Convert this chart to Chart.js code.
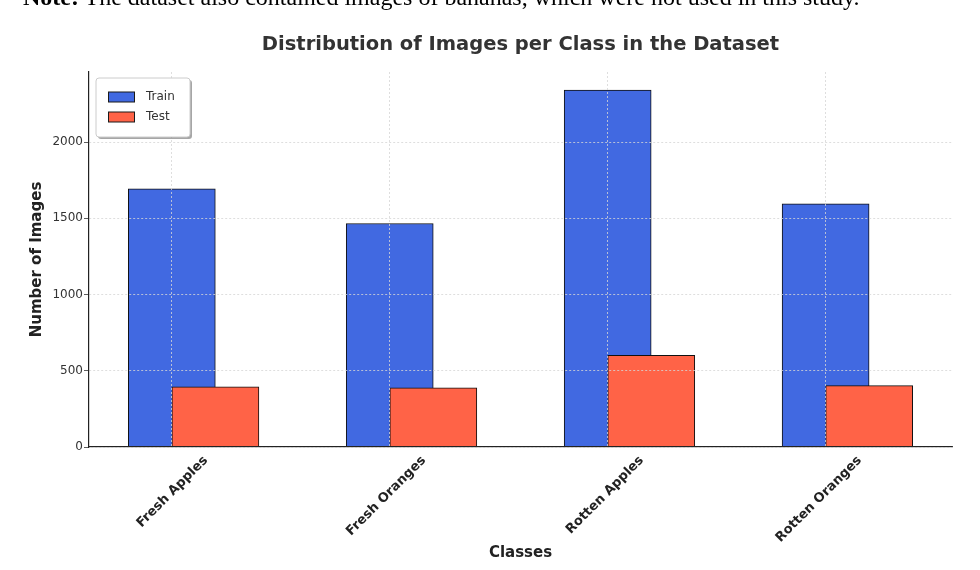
<!DOCTYPE html>
<html>
<head>
<meta charset="utf-8">
<script src="https://cdn.jsdelivr.net/npm/chart.js@4/dist/chart.umd.min.js"></script>
<style>
    html, body { margin: 0; padding: 0; background: #ffffff; overflow: hidden; }
    #page { position: relative; width: 980px; height: 570px; overflow: hidden; }
    #note {
        position: absolute; left: 23px; top: -15px; white-space: nowrap;
        font-family: "Liberation Serif", serif; font-size: 24px; line-height: 1; color: #000;
    }
    #distChart { position: absolute; left: 0; top: 0; }
</style>
</head>
<body>
<div id="page">
    <canvas id="distChart" width="980" height="570"></canvas>
    <div id="note"><b>Note:</b> The dataset also contained images of bananas, which were not used in this study.</div>
</div>
<script>
const categories = ['Fresh Apples', 'Fresh Oranges', 'Rotten Apples', 'Rotten Oranges'];
const trainCounts = [1693, 1466, 2342, 1595];
const testCounts = [395, 388, 601, 403];
const yTicks = [0, 500, 1000, 1500, 2000];
const yMax = 2460;

// test bars sit half a bar to the right of the train bars
const testShift = 0.2;

Chart.defaults.font.family = 'DejaVu Sans';
Chart.defaults.color = '#333';

// title centred over the axes, like matplotlib does it
const axesTitle = {
    id: 'axesTitle',
    afterDraw(chart, args, opts) {
        const { ctx, chartArea } = chart;
        ctx.save();
        ctx.fillStyle = '#333';
        ctx.font = 'bold 19.5px "DejaVu Sans"';
        ctx.textAlign = 'center';
        ctx.textBaseline = 'middle';
        ctx.fillText(opts.text, (chartArea.left + chartArea.right) / 2, 44.5);
        ctx.restore();
    }
};

const legendBox = {
    id: 'legendBox',
    afterDraw(chart) {
        const ctx = chart.ctx;
        const x = 96, y = 78, w = 94, h = 59;

        ctx.save();
        ctx.fillStyle = 'rgba(0, 0, 0, 0.35)';
        ctx.beginPath();
        ctx.roundRect(x + 2, y + 2, w, h, 3);
        ctx.fill();
        ctx.fillStyle = '#ffffff';
        ctx.strokeStyle = '#cccccc';
        ctx.lineWidth = 1;
        ctx.beginPath();
        ctx.roundRect(x, y, w, h, 3);
        ctx.fill();
        ctx.stroke();

        chart.data.datasets.forEach((ds, i) => {
            const rowY = 97 + i * 20;
            ctx.fillStyle = ds.backgroundColor;
            ctx.fillRect(108.5, rowY - 5, 26, 10);
            ctx.strokeStyle = '#1a1a1a';
            ctx.strokeRect(108.5, rowY - 5, 26, 10);
            ctx.fillStyle = '#333';
            ctx.font = '12px "DejaVu Sans"';
            ctx.textBaseline = 'middle';
            ctx.fillText(ds.label, 146, rowY);
        });
        ctx.restore();
    }
};

const ctx = document.getElementById('distChart').getContext('2d');

const distChart = new Chart(ctx, {
    type: 'bar',
    data: {
        datasets: [
            {
                label: 'Train',
                data: trainCounts.map((v, i) => ({ x: i, y: v })),
                backgroundColor: '#4169E1',
                borderColor: '#111',
                borderWidth: 1,
                borderSkipped: false,
                order: 2,
            },
            {
                label: 'Test',
                data: testCounts.map((v, i) => ({ x: i + testShift, y: v })),
                backgroundColor: '#FF6347',
                borderColor: '#111',
                borderWidth: 1,
                borderSkipped: false,
                order: 1,
            },
        ],
    },
    options: {
        responsive: false,
        animation: false,
        grouped: false,
        barThickness: 87,
        layout: {
            padding: { left: 0, right: 28, top: 72, bottom: 0 },
        },
        scales: {
            x: {
                type: 'linear',
                min: -0.38,
                max: 3.58,
                offset: false,
                afterBuildTicks: (scale) => {
                    scale.ticks = categories.map((_, i) => ({ value: i }));
                },
                afterFit: (scale) => {
                    scale.height = 123;
                },
                grid: {
                    offset: false,
                    z: 1,
                    color: '#d6d6d6',
                    lineWidth: 0.8,
                    tickLength: 4,
                    tickColor: 'rgba(0,0,0,0)',
                },
                border: {
                    z: 1,
                    color: '#222',
                    width: 1.2,
                    dash: [2, 2],
                },
                ticks: {
                    autoSkip: false,
                    maxRotation: 45,
                    minRotation: 45,
                    labelOffset: 34,
                    padding: 2,
                    color: '#222',
                    font: { size: 13, weight: 'bold' },
                    callback: (value) => categories[value],
                },
                title: {
                    display: true,
                    text: 'Classes',
                    color: '#222',
                    font: { size: 15, weight: 'bold' },
                    padding: { top: 0, bottom: 8 },
                },
            },
            y: {
                min: 0,
                max: yMax,
                afterBuildTicks: (scale) => {
                    scale.ticks = yTicks.map((v) => ({ value: v }));
                },
                afterFit: (scale) => {
                    scale.width = 89;
                },
                grid: {
                    z: 1,
                    color: '#d6d6d6',
                    lineWidth: 0.8,
                    tickLength: 5,
                    tickColor: '#333',
                    tickBorderDash: [],
                },
                border: {
                    z: 1,
                    color: '#222',
                    width: 1.2,
                    dash: [2, 2],
                },
                ticks: {
                    padding: 1,
                    color: '#333',
                    font: { size: 12 },
                    callback: (value) => String(value),
                },
                title: {
                    display: true,
                    text: 'Number of Images',
                    color: '#222',
                    font: { size: 15, weight: 'bold' },
                    padding: { top: 28.5, bottom: 0 },
                },
            },
        },
        plugins: {
            legend: { display: false },
            tooltip: { enabled: false },
            title: { display: false },
            axesTitle: { text: 'Distribution of Images per Class in the Dataset' },
        },
    },
    plugins: [axesTitle, legendBox],
});
</script>
</body>
</html>
